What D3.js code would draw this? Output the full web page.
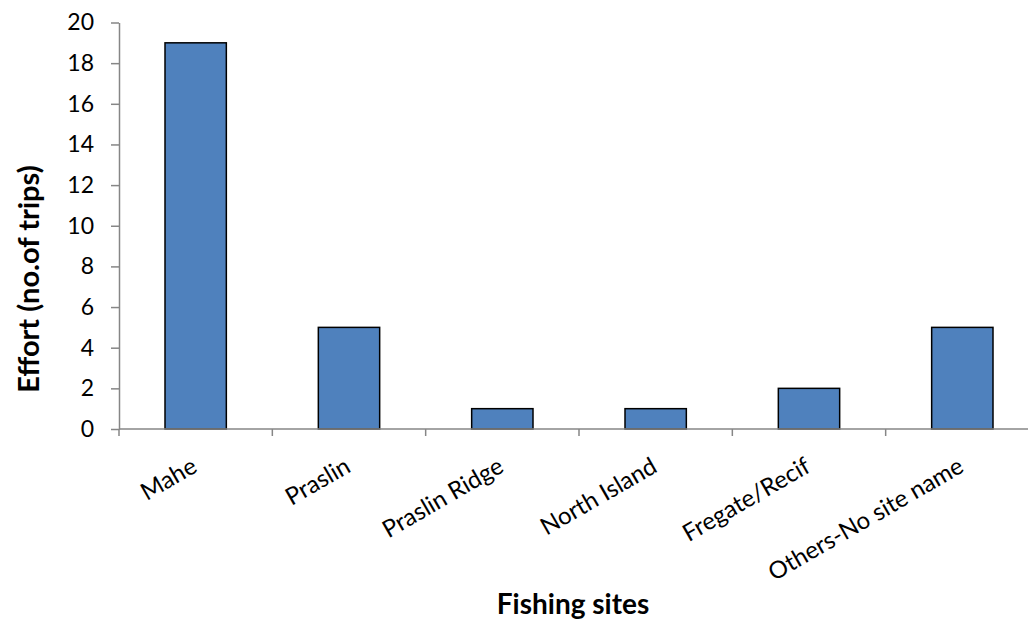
<!DOCTYPE html>
<html>
<head>
<meta charset="utf-8">
<script src="https://cdn.jsdelivr.net/npm/d3@7"></script>
<style>
  html, body { margin: 0; padding: 0; background: #fff; }
  svg { display: block; font-family: Lato, "Open Sans", sans-serif; }
</style>
</head>
<body>
<svg id="chart" width="1028" height="623"></svg>
<script>
// Fishing effort by site
const sites = ["Mahe", "Praslin", "Praslin Ridge", "North Island", "Fregate/Recif", "Others-No site name"];
const trips = [19, 5, 1, 1, 2, 5];
const yTicks = [0, 2, 4, 6, 8, 10, 12, 14, 16, 18, 20];

const svg = d3.select("#chart");
const plot = { left: 119, right: 1039, top: 22.5, bottom: 429 };

const x = d3.scaleBand()
  .domain(sites)
  .range([plot.left, plot.right])
  .paddingInner(0.6)
  .paddingOuter(0.3);

const y = d3.scaleLinear()
  .domain([0, 20])
  .range([plot.bottom, plot.top]);

const axisColor = "#868686";

// Y axis
const yAxis = svg.append("g")
  .attr("transform", `translate(${plot.left},0)`)
  .call(d3.axisLeft(y).tickValues(yTicks).tickSize(8).tickSizeOuter(0).tickPadding(17));
yAxis.select(".domain").attr("stroke", axisColor).attr("stroke-width", 1.5);
yAxis.selectAll(".tick line").attr("stroke", axisColor).attr("stroke-width", 1.5);
yAxis.selectAll(".tick text")
  .attr("fill", "#000")
  .style("font-size", "23px")
  .style("font-family", "Lato, sans-serif");

// Bars
svg.append("g").selectAll("rect")
  .data(sites.map((s, i) => ({ site: s, value: trips[i] })))
  .join("rect")
  .attr("x", d => x(d.site))
  .attr("y", d => y(d.value))
  .attr("width", x.bandwidth())
  .attr("height", d => y(0) - y(d.value))
  .attr("fill", "#4f81bd")
  .attr("stroke", "#000")
  .attr("stroke-width", 1.5);

// X axis line with category boundary ticks
const step = x.step();
const boundaries = d3.range(sites.length + 1).map(i => plot.left + i * step);
svg.append("line")
  .attr("x1", plot.left).attr("x2", plot.right)
  .attr("y1", plot.bottom).attr("y2", plot.bottom)
  .attr("stroke", axisColor).attr("stroke-width", 1.5);
svg.append("g").selectAll("line")
  .data(boundaries)
  .join("line")
  .attr("x1", d => d).attr("x2", d => d)
  .attr("y1", plot.bottom).attr("y2", plot.bottom + 7)
  .attr("stroke", axisColor).attr("stroke-width", 1.5);

// Rotated category labels
svg.append("g").selectAll("text")
  .data(sites)
  .join("text")
  .attr("transform", d => `translate(${x(d) + x.bandwidth() / 2 + 3},${plot.bottom + 42}) rotate(-30)`)
  .attr("text-anchor", "end")
  .style("font-size", "24px")
  .attr("fill", "#000")
  .text(d => d);

// Axis titles
svg.append("text")
  .attr("x", 573)
  .attr("y", 614)
  .attr("text-anchor", "middle")
  .style("font-size", "28px")
  .style("font-weight", "bold")
  .text("Fishing sites");

svg.append("text")
  .attr("transform", "translate(39,279) rotate(-90)")
  .attr("text-anchor", "middle")
  .style("font-size", "29px")
  .style("font-weight", "bold")
  .text("Effort (no.of trips)");
</script>
</body>
</html>
